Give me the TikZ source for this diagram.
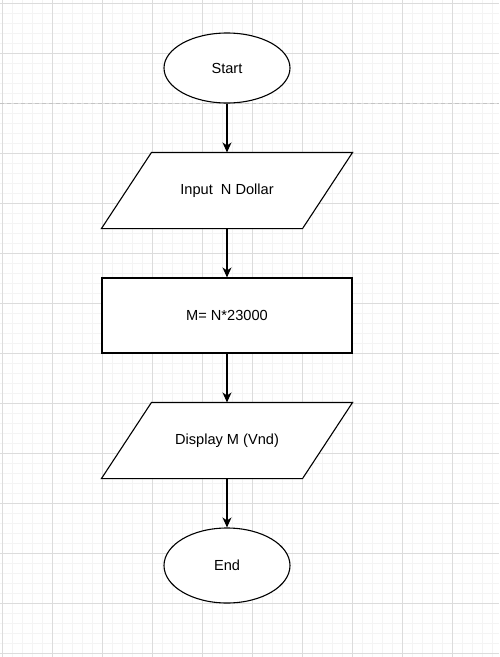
\documentclass[tikz,border=0pt]{standalone}
\usepackage{fontspec}
\setmainfont{Liberation Sans}
\usetikzlibrary{arrows.meta,shapes.geometric}
\pgfdeclarelayer{gridlayer}
\pgfdeclarelayer{shapelayer}
\pgfsetlayers{gridlayer,shapelayer,main}
\definecolor{minorgrid}{RGB}{244,244,244}
\definecolor{majorgrid}{RGB}{220,220,220}
\definecolor{pagebreak}{RGB}{196,196,196}
\tikzset{
  base/.style={font=\fontsize{14.6}{17}\selectfont, inner sep=0pt, line width=1.1pt},
  term/.style={base, ellipse, draw, fill=white, minimum width=126pt},
  proc/.style={base, rectangle, draw, fill=white, minimum width=250pt, minimum height=75pt},
  iobox/.style={base, rectangle, minimum width=250pt, minimum height=75pt},
  ioshape/.style={draw, fill=white, line width=1.1pt, line join=miter},
  arr/.style={-{Stealth[length=10pt,width=9pt,inset=3pt]}, line width=1.1pt},
  minorline/.style={minorgrid, line width=0.8pt},
  majorline/.style={majorgrid, line width=1pt},
}
\begin{document}
\begin{tikzpicture}[x=1pt,y=-1pt]
\useasboundingbox (0,0) rectangle (499,657);
\begin{pgfonlayer}{gridlayer}
  \fill[white] (0,0) rectangle (499,657);
  \foreach \x in {2,12,...,498} \draw[minorline] (\x,0) -- (\x,657);
  \foreach \y in {3,13,...,657} \draw[minorline] (0,\y) -- (499,\y);
  \foreach \x in {2,52,...,498} \draw[majorline] (\x,0) -- (\x,657);
  \foreach \y in {3,53,...,657} \draw[majorline] (0,\y) -- (499,\y);
  \draw[pagebreak, line width=1pt, dash pattern=on 4pt off 3pt] (0,103) -- (499,103);
\end{pgfonlayer}

\node[term, minimum height=70pt] (start) at (227,68) {Start};
\node[iobox] (in) at (227,190.5) {Input\ \ N Dollar};
\node[proc] (calc) at (227,315.5) {M= N*23000};
\node[iobox] (out) at (227,440.5) {Display M (Vnd)};
\node[term, minimum height=75pt] (end) at (227,565.5) {End};

\begin{pgfonlayer}{shapelayer}
  \draw[ioshape] ([xshift=50pt]in.north west) -- (in.north east) -- ([xshift=-50pt]in.south east) -- (in.south west) -- cycle;
  \draw[ioshape] ([xshift=50pt]out.north west) -- (out.north east) -- ([xshift=-50pt]out.south east) -- (out.south west) -- cycle;
\end{pgfonlayer}

\draw[arr] (start.south) -- (in.north);
\draw[arr] (in.south) -- (calc.north);
\draw[arr] (calc.south) -- (out.north);
\draw[arr] (out.south) -- (end.north);
\end{tikzpicture}
\end{document}
